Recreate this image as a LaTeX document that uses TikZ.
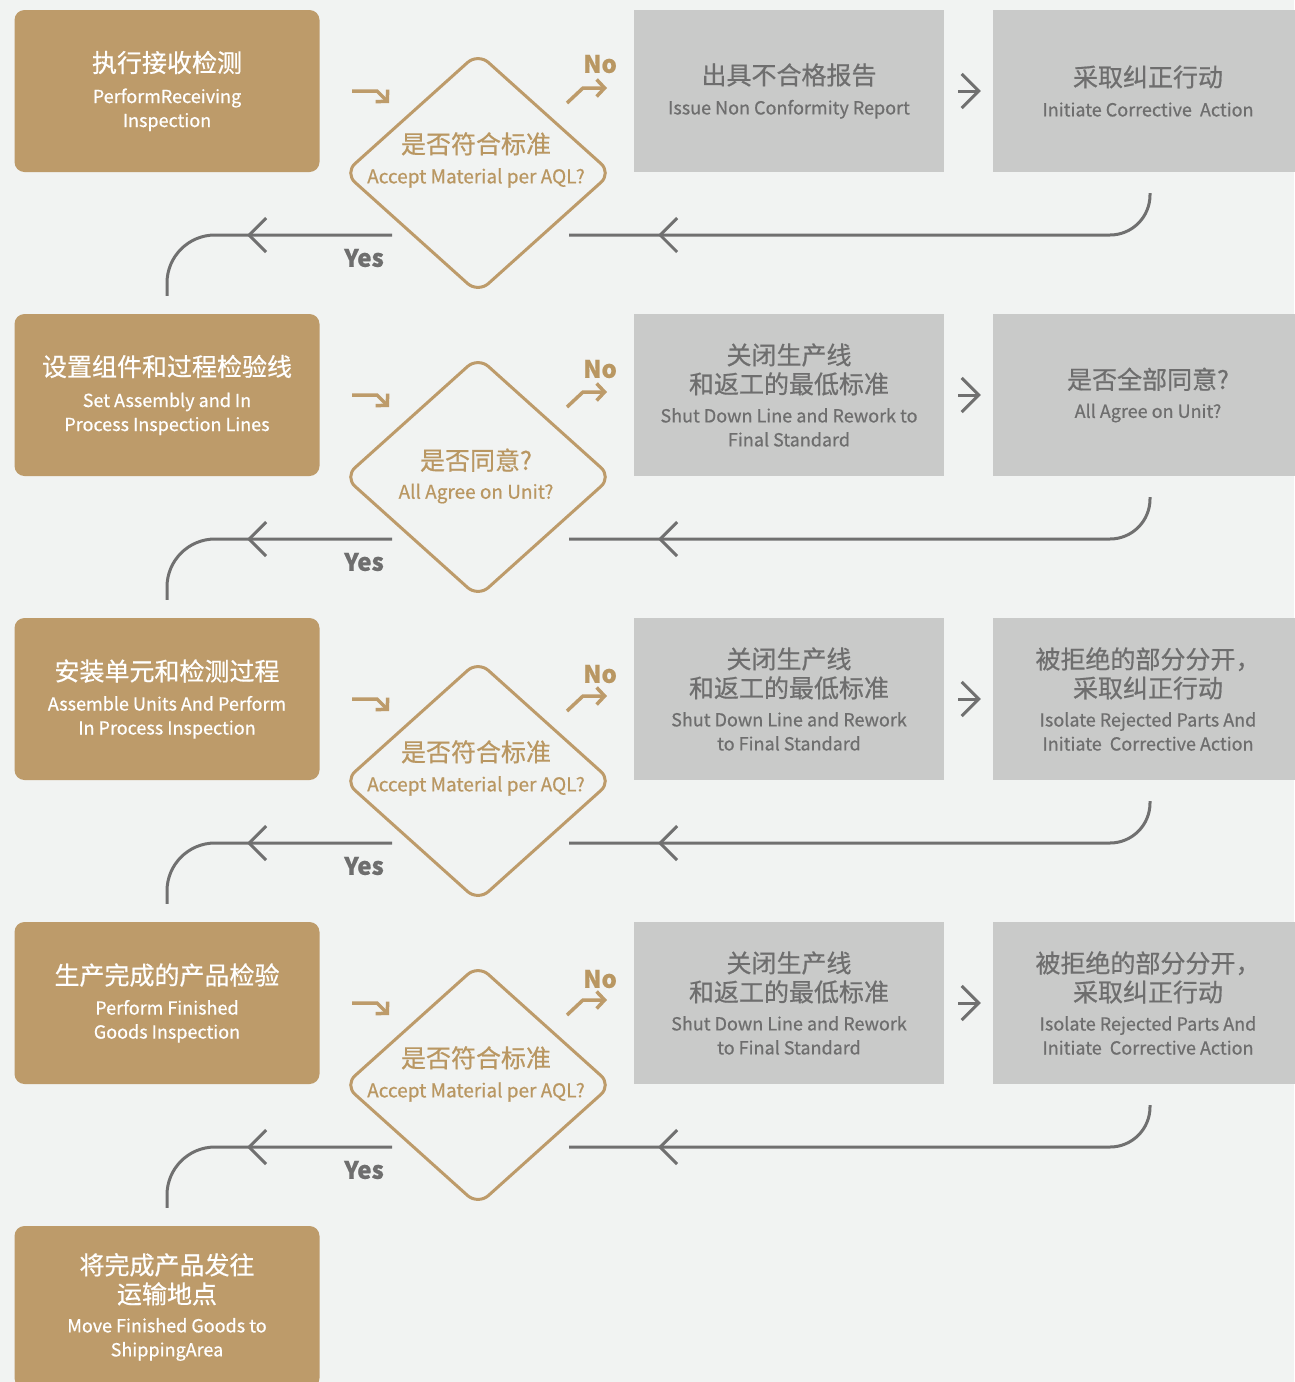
\documentclass[tikz,border=0pt]{standalone}
\usepackage{fontspec}
\setmainfont{Noto Sans CJK SC}[FakeBold=0.6]
\usetikzlibrary{arrows.meta,shapes.geometric,decorations.markings}

\definecolor{paper}{HTML}{F1F3F2}
\definecolor{gold}{HTML}{BD9B6A}
\definecolor{goldtext}{HTML}{B99762}
\definecolor{greybox}{HTML}{C9CAC9}
\definecolor{greytext}{HTML}{6E6E6E}
\definecolor{greyline}{HTML}{707070}

\newcommand{\zhsize}{\fontsize{25pt}{29pt}\selectfont}
\newcommand{\ensize}{\fontsize{18pt}{24pt}\selectfont}

\begin{document}
\begin{tikzpicture}[x=1pt, y=-1pt,
    stepbox/.style={fill=gold, rounded corners=10pt, minimum width=305pt,
        minimum height=162pt, inner sep=0pt, align=center, text=white, font=\ensize},
    failbox/.style={fill=greybox, minimum width=310pt, minimum height=162pt,
        inner sep=0pt, align=center, text=greytext, font=\ensize},
    question/.style={diamond, draw=gold, line width=3pt, rounded corners=14pt,
        minimum width=268pt, minimum height=241pt, inner sep=0pt},
    qtext/.style={align=center, text=goldtext, inner sep=0pt,
        font=\fontsize{19pt}{24pt}\selectfont},
    nolabel/.style={text=goldtext, inner sep=0pt, font=\fontsize{24pt}{24pt}\selectfont\bfseries},
    yeslabel/.style={text=greytext, inner sep=0pt, font=\fontsize{24pt}{24pt}\selectfont\bfseries},
    nextarrow/.style={greyline, line width=3pt, -{Straight Barb[length=17pt,width=34pt]},
        shorten <=14pt, shorten >=12pt},
    backline/.style={greyline, line width=3pt, rounded corners=40pt, postaction={decorate},
        decoration={markings, mark=at position 89pt with
            {\arrowreversed{Straight Barb[length=17pt,width=34pt]}}}},
    yesline/.style={greyline, line width=3pt, rounded corners=48pt, postaction={decorate},
        decoration={markings, mark=at position 145pt with
            {\arrow{Straight Barb[length=17pt,width=34pt]}}}},
    goldarrow/.style={gold, line width=3.5pt, -{Straight Barb[length=8pt,width=17pt]}},
]
    % ==== PAGE ====
    \useasboundingbox (0,0) rectangle (1294,1382);
    \fill[paper] (0,0) rectangle (1294,1382);

    % ==== ROW 1 ====
    \node[stepbox] (s1) at (167,91) {{\zhsize 执行接收检测}\\[7pt] PerformReceiving\\ Inspection};
    \node[question] (d1) at (478,173) {};
    \node[qtext] (q1) at (476,160) {{\zhsize 是否符合标准}\\[6pt] Accept Material per AQL?};
    \node[failbox] (f1) at (789,91) {{\zhsize 出具不合格报告}\\[6pt] Issue Non Conformity Report};
    \node[failbox] (c1) at (1148,91) {{\zhsize 采取纠正行动}\\[6pt] Initiate Corrective\ \ Action};
    \node[nolabel] (n1) at (600,64) {No};
    \node[yeslabel] (y1) at (364,258) {Yes};
    \coordinate (in1) at (352,91);
    \coordinate (no1) at (567,103);
    \coordinate (dr1) at (569,235);
    \coordinate (dl1) at (392,235);
    \draw[goldarrow] (in1) -- ++(25,0) -- ++(12,12);
    \draw[goldarrow] (no1) -- ++(16,-15) -- ++(24,0);
    \draw[nextarrow] (f1) -- (c1);
    \draw[backline] (dr1) -| ([xshift=2pt,yshift=-21pt]c1.south);

    % ==== ROW 2 ====
    \node[stepbox] (s2) at (167,395) {{\zhsize 设置组件和过程检验线}\\[7pt] Set Assembly and In\\ Process Inspection Lines};
    \draw[yesline] (dl1) -| ([yshift=18pt]s2.north);
    \node[question] (d2) at (478,477) {};
    \node[qtext] (q2) at (476,476) {{\zhsize 是否同意?}\\[5pt] All Agree on Unit?};
    \node[failbox] (f2) at (789,395) {{\zhsize 关闭生产线}\\[5pt]{\zhsize 和返工的最低标准}\\[5pt]
        Shut Down Line and Rework to\\ Final Standard};
    \node[failbox] (c2) at (1148,395) {{\zhsize 是否全部同意?}\\[5pt] All Agree on Unit?};
    \node[nolabel] (n2) at (600,369) {No};
    \node[yeslabel] (y2) at (364,562) {Yes};
    \coordinate (in2) at (352,395);
    \coordinate (no2) at (567,407);
    \coordinate (dr2) at (569,539);
    \coordinate (dl2) at (392,539);
    \draw[goldarrow] (in2) -- ++(25,0) -- ++(12,12);
    \draw[goldarrow] (no2) -- ++(16,-15) -- ++(24,0);
    \draw[nextarrow] (f2) -- (c2);
    \draw[backline] (dr2) -| ([xshift=2pt,yshift=-21pt]c2.south);

    % ==== ROW 3 ====
    \node[stepbox] (s3) at (167,699) {{\zhsize 安装单元和检测过程}\\[6pt] Assemble Units And Perform\\ In Process Inspection};
    \draw[yesline] (dl2) -| ([yshift=18pt]s3.north);
    \node[question] (d3) at (478,781) {};
    \node[qtext] (q3) at (476,768) {{\zhsize 是否符合标准}\\[6pt] Accept Material per AQL?};
    \node[failbox] (f3) at (789,699) {{\zhsize 关闭生产线}\\[5pt]{\zhsize 和返工的最低标准}\\[5pt]
        Shut Down Line and Rework\\ to Final Standard};
    \node[failbox] (c3) at (1148,699) {{\zhsize 被拒绝的部分分开，}\\[5pt]{\zhsize 采取纠正行动}\\[5pt]
        Isolate Rejected Parts And\\ Initiate\ \ Corrective Action};
    \node[nolabel] (n3) at (600,674) {No};
    \node[yeslabel] (y3) at (364,866) {Yes};
    \coordinate (in3) at (352,699);
    \coordinate (no3) at (567,711);
    \coordinate (dr3) at (569,843);
    \coordinate (dl3) at (392,843);
    \draw[goldarrow] (in3) -- ++(25,0) -- ++(12,12);
    \draw[goldarrow] (no3) -- ++(16,-15) -- ++(24,0);
    \draw[nextarrow] (f3) -- (c3);
    \draw[backline] (dr3) -| ([xshift=2pt,yshift=-21pt]c3.south);

    % ==== ROW 4 ====
    \node[stepbox] (s4) at (167,1003) {{\zhsize 生产完成的产品检验}\\[6pt] Perform Finished\\ Goods Inspection};
    \draw[yesline] (dl3) -| ([yshift=18pt]s4.north);
    \node[question] (d4) at (478,1085) {};
    \node[qtext] (q4) at (476,1074) {{\zhsize 是否符合标准}\\[6pt] Accept Material per AQL?};
    \node[failbox] (f4) at (789,1003) {{\zhsize 关闭生产线}\\[5pt]{\zhsize 和返工的最低标准}\\[5pt]
        Shut Down Line and Rework\\ to Final Standard};
    \node[failbox] (c4) at (1148,1003) {{\zhsize 被拒绝的部分分开，}\\[5pt]{\zhsize 采取纠正行动}\\[5pt]
        Isolate Rejected Parts And\\ Initiate\ \ Corrective Action};
    \node[nolabel] (n4) at (600,979) {No};
    \node[yeslabel] (y4) at (364,1170) {Yes};
    \coordinate (in4) at (352,1003);
    \coordinate (no4) at (567,1015);
    \coordinate (dr4) at (569,1147);
    \coordinate (dl4) at (392,1147);
    \draw[goldarrow] (in4) -- ++(25,0) -- ++(12,12);
    \draw[goldarrow] (no4) -- ++(16,-15) -- ++(24,0);
    \draw[nextarrow] (f4) -- (c4);
    \draw[backline] (dr4) -| ([xshift=2pt,yshift=-21pt]c4.south);

    % ==== SHIPPING ====
    \node[stepbox] (s5) at (167,1307) {{\zhsize 将完成产品发往}\\[5pt]{\zhsize 运输地点}\\[5pt]
        Move Finished Goods to\\ ShippingArea};
    \draw[yesline] (dl4) -| ([yshift=18pt]s5.north);
\end{tikzpicture}
\end{document}
